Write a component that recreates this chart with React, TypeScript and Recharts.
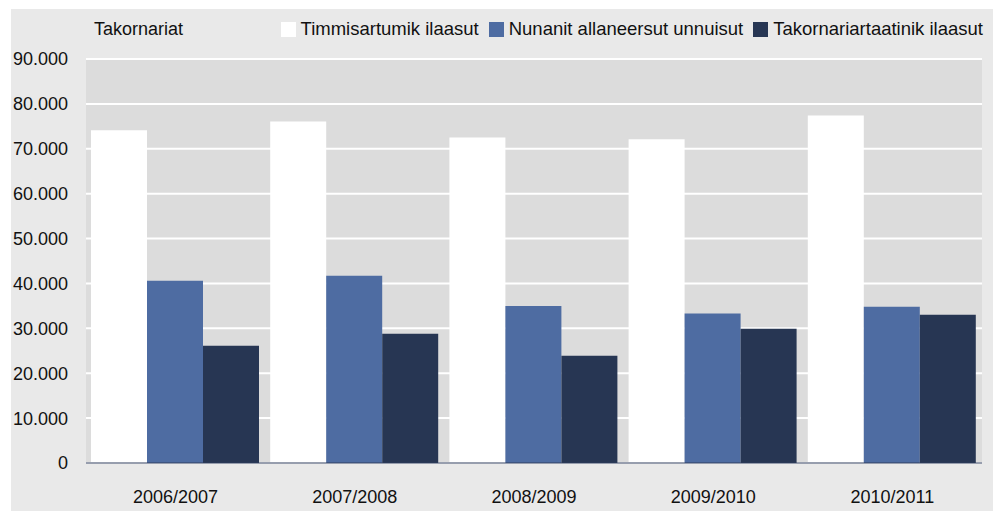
import React from 'react';
import { Bar, BarChart, CartesianGrid, XAxis, YAxis, Legend } from 'recharts';

const years = ['2006/2007', '2007/2008', '2008/2009', '2009/2010', '2010/2011'];
const timmisartumik = [74100, 76100, 72500, 72100, 77400];
const nunanit = [40600, 41700, 35000, 33300, 34800];
const takornariartaatinik = [26100, 28800, 23900, 29900, 33000];
const yTicks = [0, 10000, 20000, 30000, 40000, 50000, 60000, 70000, 80000, 90000];
const seriesNames = ['Timmisartumik ilaasut', 'Nunanit allaneersut unnuisut', 'Takornariartaatinik ilaasut'];

const data = years.map((year, i) => ({
    year,
    timmisartumik: timmisartumik[i],
    nunanit: nunanit[i],
    takornariartaatinik: takornariartaatinik[i]
}));

const font = '"Liberation Sans", Arial, sans-serif';

const formatThousands = (v: number) =>
    String(v).replace(/\B(?=(\d{3})+(?!\d))/g, '.');

const renderLegend = (props: any) => {
    const payload = [...(props.payload || [])].sort(
        (a: any, b: any) => seriesNames.indexOf(a.value) - seriesNames.indexOf(b.value)
    );
    return (
        <div style={{ position: 'relative', height: 22, width: 1000, fontFamily: font, fontSize: 18.5, color: '#111' }}>
            <span style={{ position: 'absolute', left: 94, top: 0, lineHeight: '22px', fontSize: 18 }}>Takornariat</span>
            <div style={{ position: 'absolute', right: 17, top: 0, display: 'flex', alignItems: 'center', height: 22 }}>
                {payload.map((item: any) => (
                    <div key={item.value} style={{ display: 'flex', alignItems: 'center', marginLeft: 10 }}>
                        <span style={{ width: 15, height: 15, background: item.color, display: 'inline-block', marginRight: 5 }} />
                        <span style={{ lineHeight: '22px', whiteSpace: 'nowrap' }}>{item.value}</span>
                    </div>
                ))}
            </div>
        </div>
    );
};

export default function App() {
    return (
        <div style={{ position: 'absolute', left: 0, top: 0, width: 1000, height: 511, background: '#fff' }}>
            <div style={{ position: 'absolute', left: 11, top: 9, width: 982, height: 502, background: '#e9e9e9' }} />
            <div style={{ position: 'absolute', left: 0, top: 0 }}>
                <BarChart
                    width={1000}
                    height={511}
                    data={data}
                    margin={{ top: 37, right: 18, bottom: 18, left: 0 }}
                    barCategoryGap={5}
                    barGap={0}
                >
                    <CartesianGrid vertical={false} stroke='#ffffff' strokeWidth={2} fill='#dcdcdc' />
                    <XAxis
                        dataKey='year'
                        height={30}
                        tickLine={false}
                        tickSize={0}
                        tickMargin={27}
                        axisLine={{ stroke: '#2e3d5c', strokeWidth: 1 }}
                        tick={{ fill: '#111', fontSize: 18, fontFamily: font }}
                    />
                    <YAxis
                        width={86}
                        domain={[0, 90000]}
                        ticks={yTicks}
                        interval={0}
                        tickFormatter={formatThousands}
                        tickLine={false}
                        tickSize={0}
                        tickMargin={18}
                        axisLine={false}
                        tick={{ fill: '#111', fontSize: 18, fontFamily: font }}
                    />
                    <Legend
                        verticalAlign='top'
                        content={renderLegend}
                        wrapperStyle={{ top: 18, left: 0, width: 1000 }}
                    />
                    <Bar dataKey='timmisartumik' name={seriesNames[0]} fill='#ffffff' isAnimationActive={false} />
                    <Bar dataKey='nunanit' name={seriesNames[1]} fill='#4e6ca2' isAnimationActive={false} />
                    <Bar dataKey='takornariartaatinik' name={seriesNames[2]} fill='#273653' isAnimationActive={false} />
                </BarChart>
            </div>
        </div>
    );
}
